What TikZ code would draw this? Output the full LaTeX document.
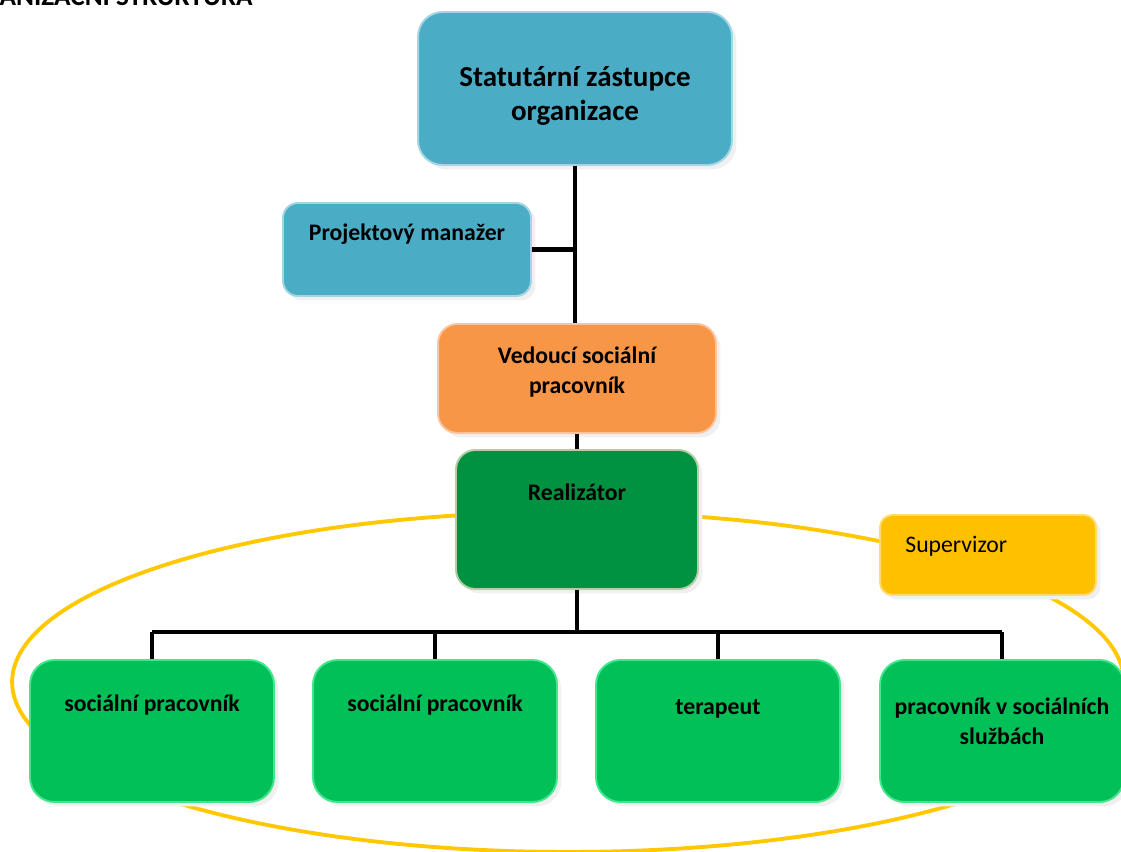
\documentclass[tikz,border=0pt]{standalone}
\usepackage{fontspec}
\setmainfont{Carlito}
\usetikzlibrary{positioning,shadows}

\definecolor{statblue}{HTML}{4BACC6}
\definecolor{statline}{HTML}{A3D6E4}
\definecolor{vedorange}{HTML}{F79646}
\definecolor{vedline}{HTML}{FAC4A0}
\definecolor{realgreen}{HTML}{009240}
\definecolor{realline}{HTML}{B3CDA6}
\definecolor{supyellow}{HTML}{FFC000}
\definecolor{supline}{HTML}{FFDC70}
\definecolor{workgreen}{HTML}{00C057}
\definecolor{workline}{HTML}{40E58C}
\definecolor{ringyellow}{HTML}{FFC800}

\begin{document}
\begin{tikzpicture}
  [x=0.02cm,y=-0.02cm,
   box/.style={draw,line width=1.1pt,inner sep=0pt,
     drop shadow={shadow xshift=2.5pt,shadow yshift=-2.5pt,fill=black!6,opacity=1}},
   txt/.style={inner sep=0pt,font=\bfseries\fontsize{13.5}{17}\selectfont,align=center},
   link/.style={line width=2.8pt,black}]
  \useasboundingbox (0,0) rectangle (1121,851);

  % ring behind the team
  \draw[ringyellow,line width=2.2pt] (568,682) ellipse [x radius=11.12cm, y radius=3.4cm];

  \node[anchor=base east,inner sep=0pt,font=\bfseries\fontsize{15.5}{18}\selectfont] (title) at (253,6) {ORGANIZAČNÍ STRUKTURA};

  % boxes
  \node[box,fill=statblue,draw=statline,rounded corners=14pt,minimum width=6.28cm,minimum height=3.06cm] (stat) at (575,88.5) {};
  \node[box,fill=statblue,draw=statline,rounded corners=8.5pt,minimum width=4.96cm,minimum height=1.86cm] (pm) at (407,249.5) {};
  \node[box,fill=vedorange,draw=vedline,rounded corners=11pt,minimum width=5.56cm,minimum height=2.18cm] (ved) at (577,378.5) {};
  \node[box,fill=realgreen,draw=realline,rounded corners=11pt,minimum width=4.84cm,minimum height=2.78cm] (real) at (577,519.5) {};
  \node[box,fill=supyellow,draw=supline,rounded corners=7pt,minimum width=4.32cm,minimum height=1.6cm] (sup) at (988,555) {};
  \foreach \name/\x in {soc1/152,soc2/435,ter/718,prac/1002}
    \node[box,fill=workgreen,draw=workline,rounded corners=14pt,minimum width=4.88cm,minimum height=2.84cm] (\name) at (\x,731) {};

  % texts
  \node[txt,font=\bfseries\fontsize{16.5}{19.5}\selectfont] (statT) at (575,96) {Statutární zástupce\\organizace};
  \node[txt,anchor=base] (pmT) at (407,240) {Projektový manažer};
  \node[txt] (vedT) at (577,372) {Vedoucí sociální\\pracovník};
  \node[txt,anchor=base] (realT) at (577,500) {Realizátor};
  \node[txt,anchor=base west,font=\fontsize{13.5}{17}\selectfont] (supT) at (905,552) {Supervizor};
  \node[txt,anchor=base] (soc1T) at (152,711) {sociální pracovník};
  \node[txt,anchor=base] (soc2T) at (435,711) {sociální pracovník};
  \node[txt,anchor=base] (terT) at (718,714) {terapeut};
  \node[txt] (pracT) at (1002,721) {pracovník v sociálních\\službách};

  % connectors
  \coordinate (fork) at (577,632);
  \draw[link] (stat.south) -- (stat.south |- ved.north);
  \draw[link] (pm.east) -- (pm.east -| stat.south);
  \draw[link] (ved.south) -- (real.north);
  \draw[link] (real.south) -- (fork);
  \draw[link] (soc1.north |- fork) -- (prac.north |- fork);
  \foreach \to in {soc1,soc2,ter,prac}
    \draw[link] (\to.north |- fork) -- (\to.north);
\end{tikzpicture}
\end{document}
